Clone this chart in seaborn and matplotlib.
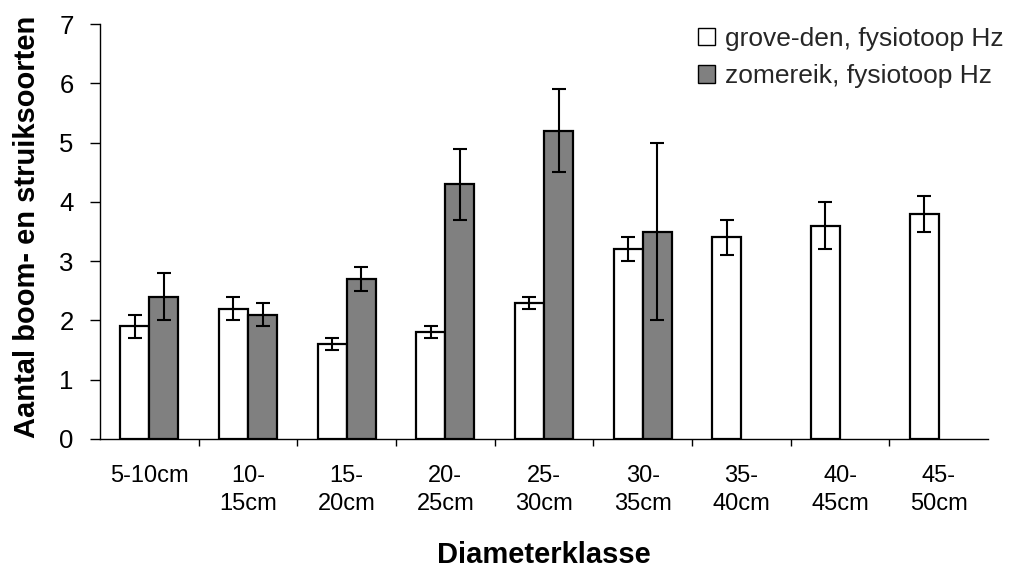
import numpy as np
import pandas as pd
import matplotlib
matplotlib.use("Agg")
import matplotlib.pyplot as plt
from matplotlib.ticker import FixedLocator
from matplotlib.patches import Patch
import seaborn as sns

categories = ["5-10cm", "10-\n15cm", "15-\n20cm", "20-\n25cm", "25-\n30cm",
              "30-\n35cm", "35-\n40cm", "40-\n45cm", "45-\n50cm"]
series_names = ["grove-den, fysiotoop Hz", "zomereik, fysiotoop Hz"]
grove_den = [1.9, 2.2, 1.6, 1.8, 2.3, 3.2, 3.4, 3.6, 3.8]
grove_den_err = [0.2, 0.2, 0.1, 0.1, 0.1, 0.2, 0.3, 0.4, 0.3]
zomereik = [2.4, 2.1, 2.7, 4.3, 5.2, 3.5, np.nan, np.nan, np.nan]
zomereik_err = [0.4, 0.2, 0.2, 0.6, 0.7, 1.5, np.nan, np.nan, np.nan]
colors = ["#FFFFFF", "#808080"]

sns.set_theme(style="ticks")
plt.rcParams["font.family"] = ["Liberation Sans", "DejaVu Sans"]

df = pd.DataFrame({
    "cat": categories * 2,
    "series": [series_names[0]] * len(categories) + [series_names[1]] * len(categories),
    "value": grove_den + zomereik,
})

fig = plt.figure(figsize=(10.13, 5.67), dpi=100)
ax = fig.add_axes([100 / 1013, 128 / 567, 888 / 1013, 415 / 567])

width = 0.59
sns.barplot(data=df, x="cat", y="value", hue="series", hue_order=series_names,
            order=categories, palette=colors, width=width, errorbar=None,
            edgecolor="black", linewidth=1.6, ax=ax, legend=False, saturation=1)

xs = np.arange(len(categories))
for k, (vals, errs) in enumerate([(grove_den, grove_den_err), (zomereik, zomereik_err)]):
    off = (k - 0.5) * width / 2
    ax.errorbar(xs + off, vals, yerr=errs, fmt="none", ecolor="black",
                elinewidth=1.5, capsize=5, capthick=1.5, zorder=5)

ax.set_xlim(-0.5, len(categories) - 0.5)
ax.set_ylim(0, 7)
ax.set_yticks(range(0, 8))
ax.tick_params(axis="y", labelsize=18.5, length=7, width=1, color="black", pad=12, labelcolor="black")
ax.tick_params(axis="x", which="major", length=0, labelsize=17, pad=19, labelcolor="black")
for lbl in ax.get_xticklabels():
    lbl.set_linespacing(1.35)
ax.xaxis.set_minor_locator(FixedLocator(np.arange(0.5, len(categories) - 0.5, 1.0)))
ax.tick_params(axis="x", which="minor", length=5, width=1, color="black")
ax.spines["top"].set_visible(False)
ax.spines["right"].set_visible(False)
for s in ["left", "bottom"]:
    ax.spines[s].set_color("black")
    ax.spines[s].set_linewidth(1)

ax.set_xlabel("Diameterklasse", fontsize=21, fontweight="bold", color="black")
ax.xaxis.set_label_coords(0.5, -0.245)
ax.set_ylabel("Aantal boom- en struiksoorten", fontsize=21, fontweight="bold", color="black")
ax.yaxis.set_label_coords(-0.066, 0.51)

handles = [Patch(facecolor=c, edgecolor="black", linewidth=1) for c in colors]
fig.legend(handles, series_names, loc="upper left", bbox_to_anchor=(698 / 1013, 1 - 27 / 567),
           frameon=False, fontsize=19, handlelength=0.64, handleheight=0.64,
           handletextpad=0.38, labelspacing=0.5, borderpad=0, borderaxespad=0)

fig.savefig("out.png", dpi=100)
